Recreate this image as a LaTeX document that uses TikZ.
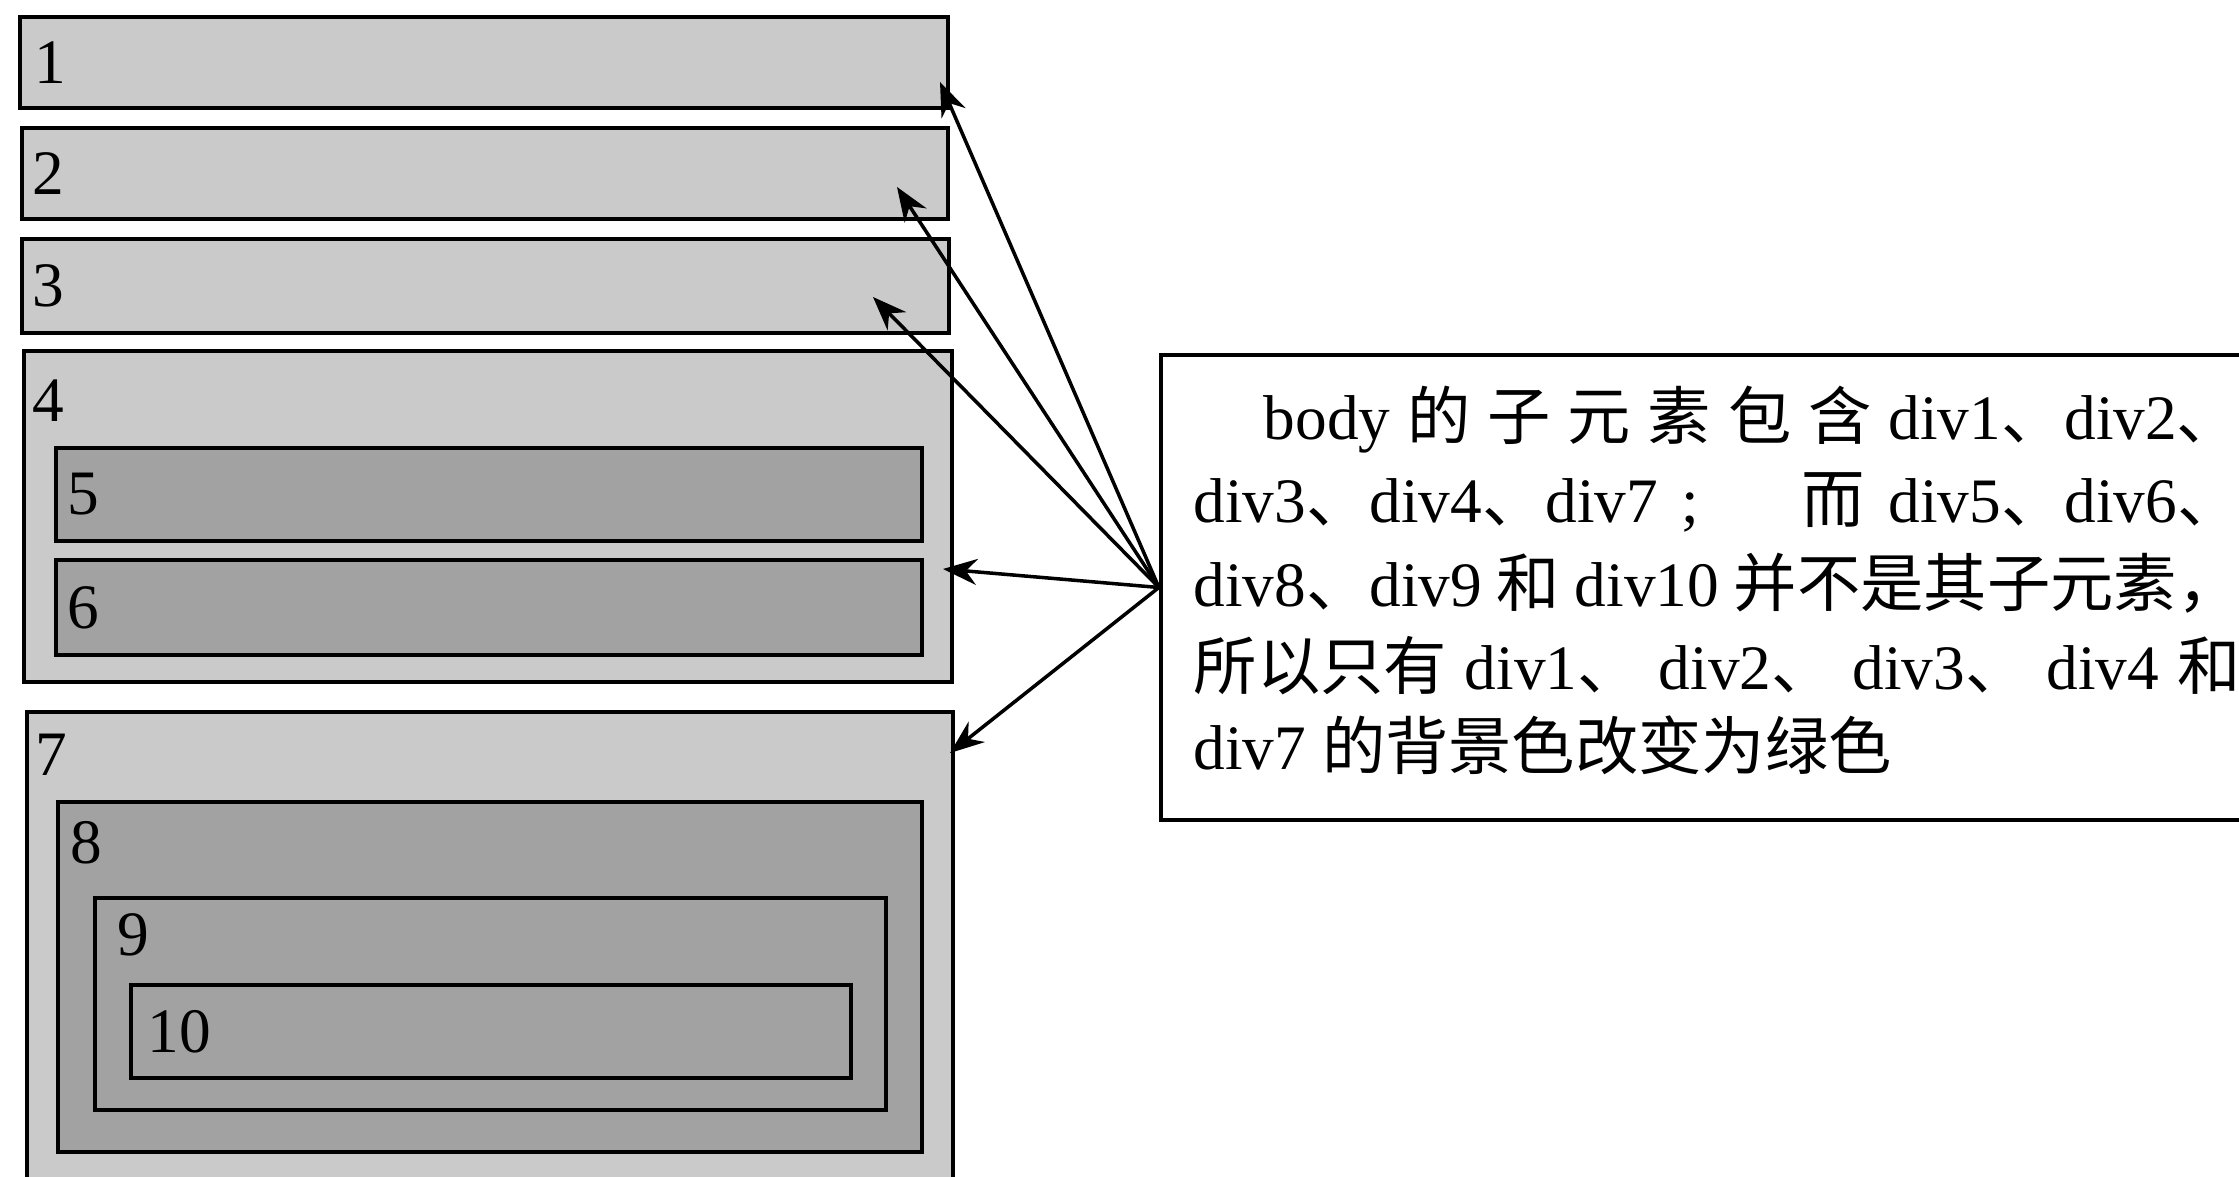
\documentclass[tikz,border=0pt]{standalone}
\usepackage{fontspec}
\setmainfont{Liberation Serif}
\newfontfamily\cjk{Noto Sans CJK SC}
\usetikzlibrary{positioning,arrows.meta,fit}
\definecolor{outergray}{RGB}{202,202,202}
\definecolor{innergray}{RGB}{162,162,162}
\newcommand{\zh}[1]{{\cjk #1}}

\begin{document}
\begin{tikzpicture}[
  x=0.01cm, y=-0.01cm,
  divbox/.style={draw, line width=1.2pt, fill=#1, inner sep=0pt},
  num/.style={inner sep=0pt, font=\fontsize{18}{20}\selectfont},
  textline/.style={inner sep=0pt, anchor=base west, font=\fontsize{18}{23.6}\selectfont},
  arrow/.style={-{Stealth[length=3.4mm,width=2.6mm]}, line width=1pt}
]
\useasboundingbox (0,0) rectangle (2239,1177);

% the div boxes
\node[divbox=outergray, fit={(20,17) (948,108)}] (div1) {};
\node[divbox=outergray, fit={(22,128) (948,219)}] (div2) {};
\node[divbox=outergray, fit={(22,239) (949,333)}] (div3) {};
\node[divbox=outergray, fit={(24,351) (952,682)}] (div4) {};
\node[divbox=innergray, fit={(56,448) (922,541)}] (div5) {};
\node[divbox=innergray, fit={(56,560) (922,655)}] (div6) {};
\node[divbox=outergray, fit={(27,712) (953,1210)}] (div7) {};
\node[divbox=innergray, fit={(58,802) (922,1152)}] (div8) {};
\node[divbox=innergray, fit={(95,898) (886,1110)}] (div9) {};
\node[divbox=innergray, fit={(131,985) (851,1078)}] (div10) {};

\node[num, right=0.16cm of div1.west] (n1) {1};
\node[num, right=0.12cm of div2.west] (n2) {2};
\node[num, right=0.12cm of div3.west] (n3) {3};
\node[num, below right=0.3cm and 0.1cm of div4.north west] (n4) {4};
\node[num, right=0.13cm of div5.west] (n5) {5};
\node[num, right=0.13cm of div6.west] (n6) {6};
\node[num, below right=0.23cm and 0.1cm of div7.north west] (n7) {7};
\node[num, below right=0.21cm and 0.14cm of div8.north west] (n8) {8};
\node[num, below right=0.17cm and 0.24cm of div9.north west] (n9) {9};
\node[num, right=0.18cm of div10.west] (n10) {10};

% explanation box
\node[draw, line width=1.2pt, inner sep=0pt, fit={(1161,355) (2290,820)}] (note) {};
\node[textline] (line1) at (1263,440)
  {\makebox[9.76cm][s]{body \zh{的} \zh{子} \zh{元} \zh{素} \zh{包} \zh{含} div1\zh{、}div2\zh{、}}};
\node[textline] (line2) at (1193,523)
  {\makebox[10.46cm][s]{div3\zh{、}div4\zh{、}div7 ;\hspace{1.2em} \zh{而} div5\zh{、}div6\zh{、}}};
\node[textline] (line3) at (1193,607)
  {\makebox[10.46cm][s]{div8\zh{、}div9 \zh{和} div10 \zh{并不是其子元素，}}};
\node[textline] (line4) at (1193,690)
  {\makebox[10.46cm][s]{\zh{所以只有} div1\zh{、} div2\zh{、} div3\zh{、} div4 \zh{和}}};
\node[textline] (line5) at (1193,770) {div7 \zh{的背景色改变为绿色}};

% arrow tips
\coordinate (tip1) at (940,82);
\coordinate (tip2) at (897,187);
\coordinate (tip3) at (873,297);
\coordinate (tip4) at (943,569);
\coordinate (tip7) at (950,753);

\draw[arrow] (note.west) -- (tip1);
\draw[arrow] (note.west) -- (tip2);
\draw[arrow] (note.west) -- (tip3);
\draw[arrow] (note.west) -- (tip4);
\draw[arrow] (note.west) -- (tip7);
\end{tikzpicture}
\end{document}
